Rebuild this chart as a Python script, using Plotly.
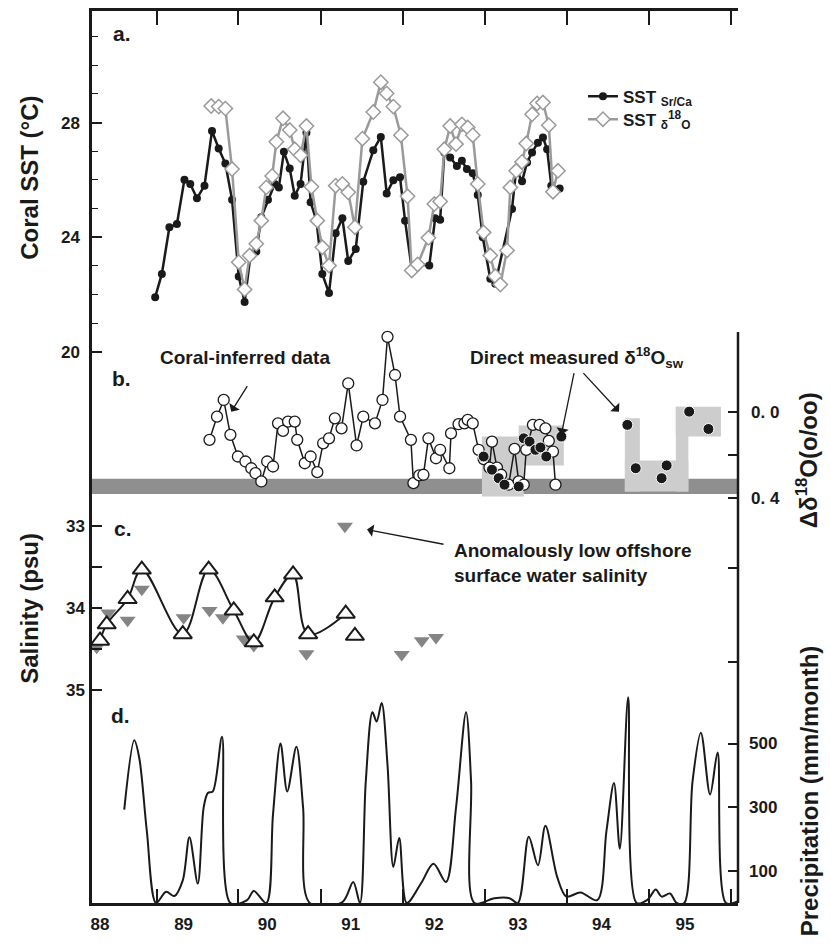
import plotly.graph_objects as go

# ---------------- data ----------------
# Panel a: coral SST
srca_year = [88.66, 88.74, 88.83, 88.92, 89.01, 89.08, 89.16, 89.25, 89.34, 89.42, 89.50, 89.58, 89.66,
             89.73, 89.80, 89.87, 89.93, 90.01, 90.09, 90.14, 90.20, 90.27, 90.33, 90.40, 90.47, 90.52,
             90.59, 90.66, 90.74, 90.82, 90.90, 90.97, 91.06, 91.15, 91.27, 91.36, 91.43, 91.51, 91.59,
             91.65, 91.73, 91.80, 91.94, 92.01, 92.07, 92.12, 92.19, 92.27, 92.33, 92.39, 92.46, 92.52,
             92.58, 92.67, 92.73, 92.93, 92.98, 93.05, 93.11, 93.17, 93.24, 93.30, 93.35, 93.40, 93.50]
srca_sst = [21.91, 22.72, 24.35, 24.46, 26.01, 25.86, 25.36, 25.80, 27.71, 27.10, 26.57, 25.31, 22.63,
            21.74, 23.36, 23.50, 24.70, 25.31, 25.86, 25.74, 26.98, 26.40, 25.45, 25.86, 27.65, 25.22,
            24.58, 22.72, 22.05, 24.14, 24.66, 23.17, 23.59, 25.94, 27.04, 27.50, 25.53, 25.99, 26.09,
            24.58, 22.90, 23.07, 23.01, 24.66, 24.61, 26.96, 26.78, 26.49, 26.67, 26.38, 26.23, 25.47,
            24.00, 22.55, 22.38, 24.99, 26.38, 25.95, 26.61, 26.96, 27.30, 27.48, 27.07, 25.80, 25.70]
d18o_year = [89.33, 89.42, 89.50, 89.58, 89.66, 89.73, 89.79, 89.87, 89.93, 89.99, 90.06, 90.11, 90.19,
             90.27, 90.33, 90.40, 90.47, 90.53, 90.60, 90.66, 90.74, 90.82, 90.90, 90.97, 91.05, 91.14,
             91.27, 91.36, 91.43, 91.51, 91.60, 91.68, 91.73, 91.80, 91.93, 92.00, 92.07, 92.12, 92.19,
             92.26, 92.33, 92.40, 92.46, 92.52, 92.59, 92.67, 92.73, 92.79, 92.87, 92.91, 92.98, 93.05,
             93.10, 93.17, 93.23, 93.30, 93.37, 93.42, 93.48]
d18o_sst = [28.58, 28.56, 28.49, 26.38, 23.13, 22.18, 23.36, 23.77, 24.58, 25.74, 26.14, 27.33, 28.15,
            27.74, 27.07, 26.86, 27.88, 25.76, 24.58, 23.65, 23.01, 25.80, 25.86, 25.57, 24.35, 27.44,
            28.37, 29.41, 29.02, 28.56, 27.56, 25.43, 22.84, 23.05, 23.98, 25.16, 25.25, 27.07, 27.88,
            27.25, 27.94, 27.83, 27.56, 25.86, 24.17, 23.36, 22.64, 22.35, 23.54, 25.74, 26.32, 26.63,
            27.27, 28.29, 28.67, 28.70, 27.91, 25.59, 26.32]

# Panel b: delta18O of seawater
coral_year = [89.31, 89.40, 89.48, 89.56, 89.65, 89.74, 89.81, 89.86, 89.93, 90.00, 90.07, 90.13, 90.19,
              90.25, 90.33, 90.36, 90.45, 90.52, 90.60, 90.67, 90.74, 90.81, 90.89, 90.97, 91.07, 91.15,
              91.29, 91.38, 91.44, 91.53, 91.59, 91.72, 91.75, 91.82, 91.87, 91.93, 92.02, 92.07, 92.18,
              92.20, 92.29, 92.36, 92.40, 92.46, 92.53, 92.59, 92.66, 92.69, 92.75, 92.80, 92.89, 92.96,
              93.01, 93.07, 93.10, 93.18, 93.26, 93.33, 93.37, 93.42, 93.45]
coral_dsw = [0.130, 0.023, -0.054, 0.107, 0.207, 0.230, 0.261, 0.284, 0.322, 0.230, 0.253, 0.054, 0.089,
             0.046, 0.046, 0.130, 0.238, 0.207, 0.279, 0.146, 0.123, 0.031, 0.077, -0.130, 0.156, 0.023,
             0.054, -0.054, -0.345, -0.169, 0.023, 0.130, 0.330, 0.294, 0.291, 0.123, 0.215, 0.176, 0.261,
             0.100, 0.058, 0.054, 0.038, 0.054, 0.176, 0.219, 0.258, 0.138, 0.258, 0.291, 0.337, 0.172,
             0.322, 0.337, 0.176, 0.061, 0.061, 0.077, 0.135, 0.184, 0.337]
meas_year = [92.59, 92.69, 92.77, 92.84, 93.01, 93.07, 93.14, 93.21, 93.27, 93.34, 93.52,
             94.31, 94.41, 94.72, 94.78, 95.05, 95.28]
meas_dsw = [0.207, 0.268, 0.307, 0.337, 0.345, 0.123, 0.138, 0.176, 0.165, 0.207, 0.115,
            0.061, 0.261, 0.307, 0.248, 0.000, 0.080]
band_lo, band_hi = 0.31, 0.38
box_x0 = [92.57, 93.01, 94.28, 94.28, 94.89, 94.89]
box_x1 = [93.07, 93.55, 94.46, 95.04, 95.04, 95.43]
box_y0 = [0.115, 0.064, 0.031, 0.225, -0.023, -0.023]
box_y1 = [0.391, 0.248, 0.368, 0.368, 0.368, 0.115]

# Panel c: salinity
tri_year = [88.00, 88.08, 88.33, 88.50, 88.99, 89.30, 89.60, 89.84, 90.09, 90.31, 90.49, 90.94]
tri_sal = [34.40, 34.20, 33.89, 33.53, 34.32, 33.53, 34.03, 34.42, 33.87, 33.59, 34.32, 34.07]
tri2_year = [91.05]
tri2_sal = [34.34]
off_year = [87.96, 88.10, 88.33, 88.50, 89.00, 89.31, 89.47, 89.72, 89.84, 90.47, 90.93, 91.61, 91.85, 92.02]
off_sal = [34.48, 34.06, 34.15, 33.77, 34.12, 34.03, 34.12, 34.38, 34.46, 34.56, 33.00, 34.57, 34.40, 34.36]

# Panel d: precipitation
precip_year = [88.29, 88.41, 88.47, 88.56, 88.67, 88.79, 88.89, 88.99, 89.07, 89.17, 89.24, 89.29, 89.35,
               89.46, 89.56, 89.76, 89.84, 89.99, 90.07, 90.16, 90.24, 90.35, 90.43, 90.51, 90.90, 91.03,
               91.11, 91.18, 91.26, 91.31, 91.37, 91.44, 91.51, 91.58, 91.67, 91.84, 91.99, 92.14, 92.26,
               92.38, 92.44, 92.48, 92.72, 92.90, 93.00, 93.13, 93.24, 93.33, 93.47, 93.58, 93.75, 93.95,
               94.06, 94.15, 94.22, 94.32, 94.42, 94.55, 94.65, 94.72, 94.82, 94.90, 94.99, 95.09, 95.19,
               95.30, 95.39, 95.49, 95.63]
precip_mm = [293, 510, 454, 226, 0, 35, 22, 71, 206, 61, 299, 345, 350,
             521, 0, 9, 38, 0, 278, 500, 350, 490, 299, 0, 3, 66,
             0, 381, 598, 569, 627, 433, 113, 204, 0, 61, 123, 66, 299,
             598, 381, 0, 15, 15, 0, 208, 118, 242, 82, 20, 33, 9,
             226, 376, 170, 645, 0, 10, 42, 20, 30, 0, 0, 381, 534,
             340, 472, 0, 5]

# axes
x_range = [87.904, 95.634]
year_ticks = [88.68, 89.65, 90.64, 91.63, 92.61, 93.59, 94.57, 95.55]
year_labels = [88, 89, 90, 91, 92, 93, 94, 95]
sst_range = [0.765, 31.896]
dsw_range = [2.2667, -1.8483]
sal_range = [37.61, 26.695]
pr_range = [0, 2797]
pr_extra_ticks = [756, 1050]

# ---------------- style ----------------
FONT = "Liberation Sans, Arial, Helvetica, sans-serif"
BLACK = "#1a1a1a"
GRAY = "#9a9a9a"

fig = go.Figure()

fig.add_shape(type="rect", xref="paper", x0=0, x1=1, yref="y2", y0=band_lo, y1=band_hi,
              fillcolor="#8f8f8f", line_width=0, layer="below")
for a, b, c, d in zip(box_x0, box_x1, box_y0, box_y1):
    fig.add_shape(type="rect", xref="x", yref="y2", x0=a, x1=b, y0=c, y1=d,
                  fillcolor="#cdcdcd", line_width=0, layer="below")

fig.add_trace(go.Scatter(x=srca_year, y=srca_sst, yaxis="y", mode="lines+markers",
                         name="SST <sub>Sr/Ca</sub>", legend="legend",
                         line=dict(color=BLACK, width=2.5),
                         marker=dict(symbol="circle", size=8, color=BLACK)))
fig.add_trace(go.Scatter(x=d18o_year, y=d18o_sst, yaxis="y", mode="lines+markers",
                         name="SST <sub>δ</sub><sup>18</sup><sub>O</sub>", legend="legend2",
                         line=dict(color=GRAY, width=2.5),
                         marker=dict(symbol="diamond", size=11, color="white",
                                     line=dict(color=GRAY, width=1.5))))
fig.add_trace(go.Scatter(x=coral_year, y=coral_dsw, yaxis="y2", mode="lines+markers", showlegend=False,
                         line=dict(color=BLACK, width=1.5),
                         marker=dict(symbol="circle", size=11, color="white",
                                     line=dict(color=BLACK, width=1.3))))
fig.add_trace(go.Scatter(x=meas_year, y=meas_dsw, yaxis="y2", mode="markers", showlegend=False,
                         marker=dict(symbol="circle", size=11, color=BLACK,
                                     line=dict(color="white", width=1))))
fig.add_trace(go.Scatter(x=off_year, y=off_sal, yaxis="y3", mode="markers", showlegend=False,
                         marker=dict(symbol="triangle-down", size=14, color="#858585")))
fig.add_trace(go.Scatter(x=tri_year, y=tri_sal, yaxis="y3", mode="lines+markers", showlegend=False,
                         line=dict(color=BLACK, width=2, shape="spline", smoothing=1),
                         marker=dict(symbol="triangle-up", size=16, color="white",
                                     line=dict(color=BLACK, width=2))))
fig.add_trace(go.Scatter(x=tri2_year, y=tri2_sal, yaxis="y3", mode="markers", showlegend=False,
                         marker=dict(symbol="triangle-up", size=16, color="white",
                                     line=dict(color=BLACK, width=2))))
fig.add_trace(go.Scatter(x=precip_year, y=precip_mm, yaxis="y4", mode="lines", showlegend=False,
                         line=dict(color=BLACK, width=2, shape="spline", smoothing=0.9)))

tickfont = dict(family=FONT, size=17, color=BLACK, weight="bold")
common_y = dict(showgrid=False, zeroline=False, ticks="inside", ticklen=10, tickwidth=1.5,
                tickcolor=BLACK, tickfont=tickfont, tickmode="array")
legfont = dict(family=FONT, size=17, color=BLACK, weight="bold")

fig.update_layout(
    width=831, height=950,
    margin=dict(l=92, r=93, t=8, b=47),
    paper_bgcolor="white", plot_bgcolor="white",
    font=dict(family=FONT, color=BLACK),
    xaxis=dict(range=x_range, domain=[0, 1], showgrid=False, zeroline=False,
               showline=True, linewidth=2.5, linecolor=BLACK, mirror="ticks",
               tickmode="array", tickvals=year_labels, ticktext=[str(v) for v in year_labels],
               ticks="", tickfont=tickfont, ticklabelstandoff=4,
               minor=dict(tickmode="array", tickvals=year_ticks, ticks="inside", ticklen=14,
                          tickwidth=1.5, tickcolor=BLACK, showgrid=False)),
    yaxis=dict(range=sst_range, side="left", showline=True, linewidth=2.5, linecolor=BLACK,
               tickvals=[20, 24, 28], ticklabelstandoff=6,
               minor=dict(tickmode="array", tickvals=[21, 22, 23, 25, 26, 27, 29, 30, 31],
                          ticks="inside", ticklen=6, tickwidth=1.2, tickcolor=BLACK),
               **common_y),
    yaxis2=dict(range=dsw_range, overlaying="y", side="right", anchor="x", showline=False,
                tickvals=[0.0, 0.4], ticktext=["0. 0", "0. 4"], ticklabelstandoff=12,
                minor=dict(tickmode="array", tickvals=[0.2], ticks="inside", ticklen=10,
                           tickwidth=1.5, tickcolor=BLACK),
                **common_y),
    yaxis3=dict(range=sal_range, overlaying="y", side="left", anchor="x", showline=False,
                tickvals=[33, 34, 35], ticklabelstandoff=6,
                minor=dict(tickmode="array", tickvals=[33.5, 34.5], ticks="inside", ticklen=10,
                           tickwidth=1.5, tickcolor=BLACK),
                **common_y),
    yaxis4=dict(range=pr_range, overlaying="y", side="right", anchor="x", showline=False,
                tickvals=[100, 300, 500], ticklabelstandoff=10,
                minor=dict(tickmode="array", tickvals=pr_extra_ticks, ticks="inside", ticklen=10,
                           tickwidth=1.5, tickcolor=BLACK),
                **common_y),
    showlegend=True,
    legend=dict(x=0.76, y=0.9039, xanchor="left", yanchor="middle", bgcolor="rgba(0,0,0,0)",
                font=legfont, itemwidth=30),
    legend2=dict(x=0.76, y=0.8782, xanchor="left", yanchor="middle", bgcolor="rgba(0,0,0,0)",
                 font=legfont, itemwidth=30),
)

# right frame line (panels b-d)
fig.add_shape(type="line", xref="paper", yref="paper", x0=1, x1=1, y0=0, y1=0.640,
              line=dict(color=BLACK, width=2.5))

ann_font = dict(family=FONT, size=19, color=BLACK, weight="bold")
title_font = dict(family=FONT, size=24, color=BLACK, weight="bold")
letter_font = dict(family=FONT, size=21, color=BLACK, weight="bold")

def paper_text(text, x, y, font, xanchor="center", **kw):
    fig.add_annotation(text=text, xref="paper", yref="paper", x=x, y=y, showarrow=False,
                       font=font, xanchor=xanchor, yanchor="middle", **kw)

paper_text("Coral SST (°C)", -0.096, 0.813, title_font, textangle=-90)
paper_text("Salinity (psu)", -0.096, 0.331, title_font, textangle=-90)
paper_text("Δδ<sup>18</sup>O(o/oo)", 1.106, 0.497, title_font, textangle=-90)
paper_text("Precipitation (mm/month)", 1.111, 0.126, title_font, textangle=-90)
paper_text("a.", 0.046, 0.975, letter_font)
paper_text("b.", 0.045, 0.588, letter_font)
paper_text("c.", 0.048, 0.420, letter_font)
paper_text("d.", 0.044, 0.210, letter_font)
paper_text("Coral-inferred data", 0.237, 0.612, ann_font)
paper_text("Direct measured δ<sup>18</sup>O<sub>sw</sub>", 0.751, 0.612, ann_font)
paper_text("Anomalously low offshore<br>surface water salinity", 0.557, 0.381, ann_font,
           xanchor="left", align="left")

def arrow(x, y, yref, ax, ay):
    fig.add_annotation(x=x, y=y, xref="x", yref=yref, ax=ax, ay=ay, text="", showarrow=True,
                       arrowhead=1, arrowsize=1.6, arrowwidth=1.3, arrowcolor=BLACK)

arrow(89.57, 0.0, "y2", 17, -27)
arrow(93.52, 0.106, "y2", 13, -63)
arrow(94.21, 0.0, "y2", -37, -40)
arrow(91.195, 33.04, "y3", 78, 15)

fig.write_html("out.html")
